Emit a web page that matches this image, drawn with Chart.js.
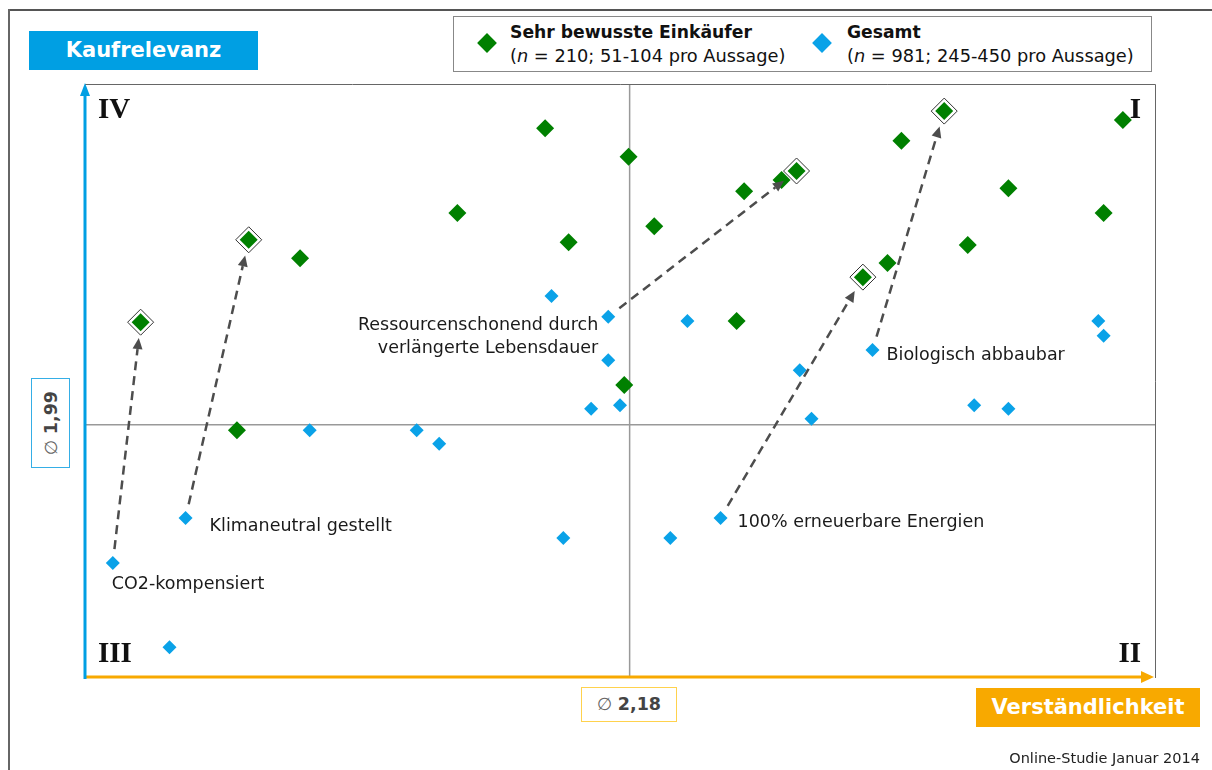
<!DOCTYPE html>
<html lang="de">
<head>
<meta charset="utf-8">
<title>Kaufrelevanz vs. Verständlichkeit</title>
<script src="https://cdn.jsdelivr.net/npm/chart.js@4.4.1/dist/chart.umd.min.js"></script>
<style>
  body { margin: 0; background: #fff; font-family: "DejaVu Sans", Verdana, sans-serif; }
  #wrap { position: relative; width: 1212px; height: 770px; overflow: hidden; }
  #chart { position: absolute; left: 0; top: 0; }
  .frame-top { position: absolute; left: 8px; top: 9px; width: 1204px; height: 0; border-top: 2px solid #555; }
  .frame-left { position: absolute; left: 8px; top: 9px; width: 0; height: 761px; border-left: 2px solid #666; }
  .tag { position: absolute; color: #fff; font-weight: bold; font-size: 21px; text-align: center; line-height: 39px; }
  #kauf { left: 29px; top: 31px; width: 229px; height: 39px; background: #009fe3; }
  #verst { left: 976px; top: 688px; width: 224px; height: 39px; background: #f8a900; }
  .mean { position: absolute; color: #444; background: #fff; }
  #meanY { left: 31px; top: 378px; width: 37px; height: 88px; border: 1px solid #35aee6; }
  #meanY span { position: absolute; left: 50%; top: 50%; transform: translate(-50%, -50%) rotate(-90deg); white-space: nowrap; font-size: 17.5px; }
  #meanX { left: 581px; top: 687px; width: 94px; height: 33px; border: 1px solid #ffd24d; text-align: center; line-height: 33px; font-size: 17.5px; }
  .mean b { font-weight: bold; }
  .mean i { font-style: normal; font-weight: normal; color: #666; }
  #legend { position: absolute; left: 453px; top: 16px; width: 697px; height: 54px; border: 1px solid #888; background: #fff; font-size: 17.8px; color: #111; }
  .item { position: absolute; top: 3px; line-height: 23px; white-space: nowrap; }
  .item b { font-weight: bold; font-size: 17.2px; }
  .dia { position: absolute; top: 19px; width: 14px; height: 14px; transform: rotate(45deg); }
  #source { position: absolute; right: 12px; top: 750px; font-size: 14.5px; color: #222; }
</style>
</head>
<body>
<div id="wrap">
  <canvas id="chart" width="1212" height="770"></canvas>
  <div class="frame-top"></div>
  <div class="frame-left"></div>
  <div class="tag" id="kauf">Kaufrelevanz</div>
  <div class="tag" id="verst">Verständlichkeit</div>
  <div class="mean" id="meanY"><span><i>∅</i> <b>1,99</b></span></div>
  <div class="mean" id="meanX"><i>∅</i> <b>2,18</b></div>
  <div id="legend">
    <div class="dia" style="left:26px; background:#008000;"></div>
    <div class="item" style="left:56px;"><b>Sehr bewusste Einkäufer</b><br>(<i>n</i> = 210; 51-104 pro Aussage)</div>
    <div class="dia" style="left:361px; background:#0aa2e8;"></div>
    <div class="item" style="left:393px;"><b>Gesamt</b><br>(<i>n</i> = 981; 245-450 pro Aussage)</div>
  </div>
  <div id="source">Online-Studie Januar 2014</div>
</div>
<script>
'use strict';

// positions on a 0-100 scale (x = Verständlichkeit, y = Kaufrelevanz)
const greenX = [5.2, 15.3, 20.1, 14.2, 34.8, 43.0, 45.2, 50.8, 50.4, 53.2, 60.9, 61.6, 65.1, 66.5, 72.7, 75.0, 76.3, 80.3, 82.5, 86.3, 95.2, 97.0];
const greenY = [60.0, 73.9, 70.8, 41.8, 78.4, 92.7, 73.5, 87.9, 49.4, 76.2, 60.2, 82.1, 84.0, 85.5, 67.6, 70.0, 90.6, 95.6, 73.0, 82.6, 78.4, 94.1];

const blueX = [2.6, 9.4, 7.9, 21.0, 31.0, 33.1, 43.6, 47.3, 48.9, 48.9, 50.0, 44.7, 54.7, 56.3, 59.4, 66.8, 67.9, 73.6, 83.1, 86.3, 94.7, 95.2];
const blueY = [19.4, 27.0, 5.2, 41.8, 41.8, 39.5, 64.4, 45.4, 60.9, 53.6, 46.0, 23.6, 23.6, 60.2, 27.0, 51.9, 43.7, 55.3, 46.0, 45.4, 60.2, 57.7];

// mean values (cross lines)
const meanX = 50.9;
const meanY = 42.7;

// statements: blue index -> green index (arrow), label text
const statements = [
  { from: 0, to: 0, text: ['CO2-kompensiert'] },
  { from: 1, to: 1, text: ['Klimaneutral gestellt'] },
  { from: 8, to: 13, text: ['Ressourcenschonend durch', 'verlängerte Lebensdauer'] },
  { from: 14, to: 14, text: ['100% erneuerbare Energien'] },
  { from: 17, to: 17, text: ['Biologisch abbaubar'] }
];

const quadrants = ['I', 'II', 'III', 'IV'];

// label placement (pixels relative to the blue point)
const labelOffsets = [
  { dx: -1, dy: 21, align: 'left' },
  { dx: 24, dy: 9, align: 'left' },
  { dx: -10, dy: 9, align: 'right' },
  { dx: 17, dy: 5, align: 'left' },
  { dx: 14, dy: 5, align: 'left' }
];

function toPoints(xs, ys) {
  return xs.map((v, i) => ({ x: v, y: ys[i] }));
}

const greenPts = toPoints(greenX, greenY);
const bluePts = toPoints(blueX, blueY);
const highlightPts = statements.map(s => greenPts[s.to]);

function drawArrow(ctx, x1, y1, x2, y2, gapStart, gapEnd) {
  const len = Math.hypot(x2 - x1, y2 - y1);
  const ux = (x2 - x1) / len, uy = (y2 - y1) / len;
  const sx = x1 + ux * gapStart, sy = y1 + uy * gapStart;
  const tx = x2 - ux * gapEnd, ty = y2 - uy * gapEnd;
  const head = 11, half = 5;
  const bx = tx - ux * head, by = ty - uy * head;
  ctx.save();
  ctx.strokeStyle = '#4d4d4d';
  ctx.fillStyle = '#4d4d4d';
  ctx.lineWidth = 2.5;
  ctx.setLineDash([9, 6]);
  ctx.beginPath();
  ctx.moveTo(sx, sy);
  ctx.lineTo(bx, by);
  ctx.stroke();
  ctx.setLineDash([]);
  ctx.beginPath();
  ctx.moveTo(tx, ty);
  ctx.lineTo(bx - uy * half, by + ux * half);
  ctx.lineTo(bx + uy * half, by - ux * half);
  ctx.closePath();
  ctx.fill();
  ctx.restore();
}

const quadrantPlugin = {
  id: 'quadrantPlugin',
  beforeDatasetsDraw(chart) {
    const { ctx, chartArea: a, scales: { x, y } } = chart;
    ctx.save();
    // frame top + right
    ctx.strokeStyle = '#666';
    ctx.lineWidth = 1;
    ctx.beginPath();
    ctx.moveTo(a.left, a.top - 0.5);
    ctx.lineTo(a.right + 0.5, a.top - 0.5);
    ctx.lineTo(a.right + 0.5, a.bottom);
    ctx.stroke();

    // mean cross
    const mx = x.getPixelForValue(meanX);
    const my = y.getPixelForValue(meanY);
    ctx.strokeStyle = '#999';
    ctx.lineWidth = 1.5;
    ctx.beginPath();
    ctx.moveTo(mx, a.top);
    ctx.lineTo(mx, a.bottom);
    ctx.moveTo(a.left, my);
    ctx.lineTo(a.right, my);
    ctx.stroke();

    // quadrant numerals
    ctx.fillStyle = '#111';
    ctx.font = 'bold 29px "Liberation Serif", "Times New Roman", serif';
    ctx.textBaseline = 'middle';
    ctx.textAlign = 'right';
    ctx.fillText(quadrants[0], a.right - 14, a.top + 26);
    ctx.fillText(quadrants[1], a.right - 14, a.bottom - 23);
    ctx.textAlign = 'left';
    ctx.fillText(quadrants[2], a.left + 13, a.bottom - 23);
    ctx.fillText(quadrants[3], a.left + 13, a.top + 26);
    ctx.restore();
  },
  afterDatasetsDraw(chart) {
    const { ctx, chartArea: a, scales: { x, y } } = chart;

    statements.forEach((s, i) => {
      const b = bluePts[s.from], g = greenPts[s.to];
      const bx = x.getPixelForValue(b.x), by = y.getPixelForValue(b.y);
      const gx = x.getPixelForValue(g.x), gy = y.getPixelForValue(g.y);
      drawArrow(ctx, bx, by, gx, gy, 14, 16);

      const off = labelOffsets[i];
      ctx.save();
      ctx.fillStyle = '#1a1a1a';
      ctx.font = '17.5px "DejaVu Sans", Verdana, sans-serif';
      ctx.textAlign = off.align;
      ctx.textBaseline = 'middle';
      s.text.forEach((line, k) => {
        ctx.fillText(line, bx + off.dx, by + off.dy + k * 23);
      });
      ctx.restore();
    });

    // axis arrows
    ctx.save();
    ctx.strokeStyle = '#f8a900';
    ctx.fillStyle = '#f8a900';
    ctx.lineWidth = 3;
    ctx.beginPath();
    ctx.moveTo(a.left, a.bottom - 1);
    ctx.lineTo(a.right - 12, a.bottom - 1);
    ctx.stroke();
    ctx.beginPath();
    ctx.moveTo(a.right - 1, a.bottom - 1);
    ctx.lineTo(a.right - 14, a.bottom - 7);
    ctx.lineTo(a.right - 14, a.bottom + 5);
    ctx.closePath();
    ctx.fill();

    ctx.strokeStyle = '#009fe3';
    ctx.fillStyle = '#009fe3';
    ctx.beginPath();
    ctx.moveTo(a.left, a.bottom + 1);
    ctx.lineTo(a.left, a.top + 10);
    ctx.stroke();
    ctx.beginPath();
    ctx.moveTo(a.left, a.top - 2);
    ctx.lineTo(a.left - 5, a.top + 11);
    ctx.lineTo(a.left + 5, a.top + 11);
    ctx.closePath();
    ctx.fill();
    ctx.restore();
  }
};

const ctx = document.getElementById('chart');

new Chart(ctx, {
  type: 'scatter',
  data: {
    datasets: [{
      label: 'Sehr bewusste Einkäufer',
      data: greenPts,
      pointStyle: 'rectRot',
      pointRadius: 9,
      pointHoverRadius: 9,
      backgroundColor: '#008000',
      borderColor: '#008000',
      borderWidth: 0,
      clip: false
    }, {
      label: 'highlight',
      data: highlightPts,
      pointStyle: 'rectRot',
      pointRadius: 13,
      pointHoverRadius: 13,
      backgroundColor: '#fff',
      borderColor: '#333',
      borderWidth: 1,
      clip: false
    }, {
      label: 'Gesamt',
      data: bluePts,
      pointStyle: 'rectRot',
      pointRadius: 7,
      pointHoverRadius: 7,
      backgroundColor: '#0aa2e8',
      borderColor: '#0aa2e8',
      borderWidth: 0,
      clip: false
    }]
  },
  options: {
    responsive: false,
    animation: false,
    layout: { padding: { left: 85, right: 57, top: 85, bottom: 92 } },
    plugins: {
      legend: { display: false },
      tooltip: { enabled: false }
    },
    scales: {
      x: { type: 'linear', min: 0, max: 100, display: false },
      y: { type: 'linear', min: 0, max: 100, display: false }
    }
  },
  plugins: [quadrantPlugin]
});
</script>
</body>
</html>
